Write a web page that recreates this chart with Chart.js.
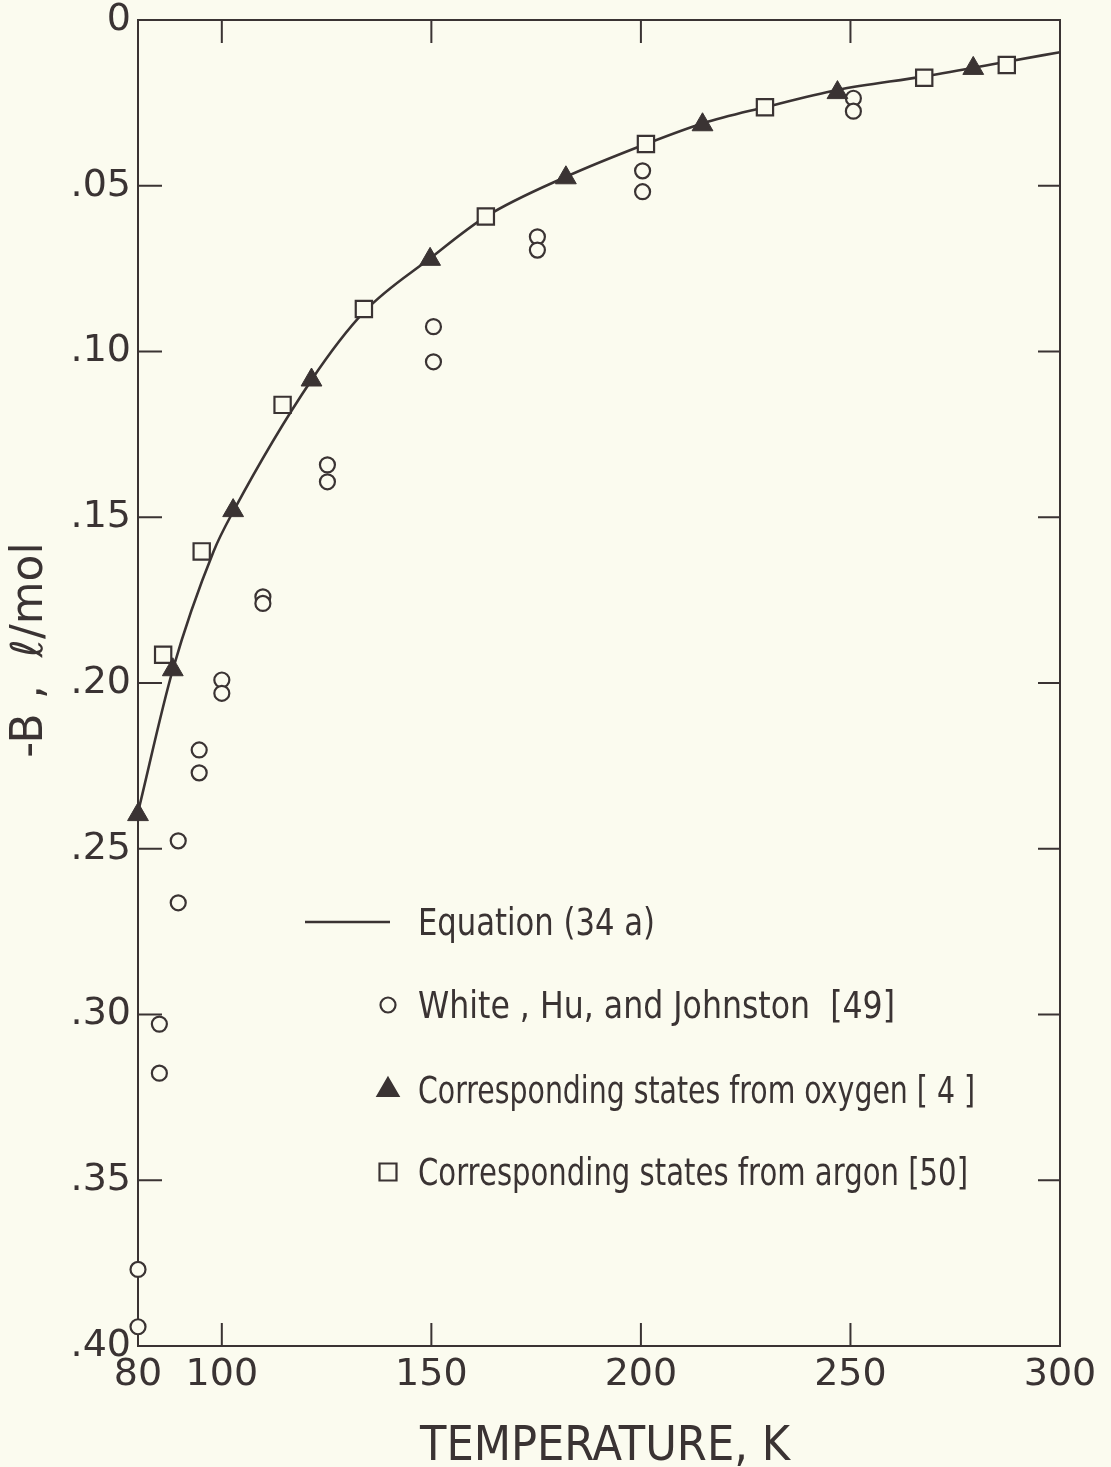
<!DOCTYPE html>
<html>
<head>
<meta charset="utf-8">
<script src="https://cdn.jsdelivr.net/npm/chart.js@4.4.1/dist/chart.umd.min.js"></script>
<style>
  html, body { margin: 0; padding: 0; background: #fbfbef; }
  canvas { display: block; }
</style>
</head>
<body>
<canvas id="chart" width="1111" height="1467"></canvas>
<script>
// tick labels
var xTicks = [80, 100, 150, 200, 250, 300];
var yTicks = [0, 0.05, 0.10, 0.15, 0.20, 0.25, 0.30, 0.35, 0.40];

// Equation (34a)
var curveT = [80, 88.3, 98, 102.7, 121.4, 134, 149.7, 163, 182.1, 201.2, 214.7, 229.6, 246.9, 267.6, 287.3, 300];
var curveB = [0.239, 0.196, 0.1604, 0.1483, 0.1086, 0.0880, 0.0719, 0.0593, 0.0473, 0.0374, 0.0312, 0.0263, 0.0211, 0.0170, 0.0126, 0.0097];

// White, Hu, and Johnston [49]
var whiteT = [80, 80, 85.1, 85.1, 89.6, 89.6, 94.6, 94.6, 100, 100, 109.8, 109.8, 125.2, 125.2, 150.5, 150.5, 175.3, 175.3, 200.4, 200.4, 250.7, 250.7];
var whiteB = [0.3769, 0.3942, 0.3029, 0.3177, 0.2476, 0.2663, 0.2202, 0.2271, 0.1991, 0.2031, 0.1740, 0.1760, 0.1342, 0.1393, 0.0925, 0.1031, 0.0654, 0.0694, 0.0455, 0.0518, 0.0236, 0.0275];

// Corresponding states from oxygen [4]
var oxyT = [80, 88.3, 102.7, 121.4, 149.7, 182.1, 214.7, 246.9, 279.3];
var oxyB = [0.2397, 0.1960, 0.1480, 0.1086, 0.0722, 0.0476, 0.0316, 0.0219, 0.0146];

// Corresponding states from argon [50]
var argT = [86.0, 95.2, 114.5, 133.9, 163.0, 201.2, 229.6, 267.6, 287.3];
var argB = [0.1915, 0.1603, 0.1161, 0.0872, 0.0593, 0.0374, 0.0263, 0.0174, 0.0136];

var legendItems = [
    { text: 'Equation (34 a)', kind: 'line' },
    { text: 'White , Hu, and Johnston  [49]', kind: 'circle' },
    { text: 'Corresponding states from oxygen [ 4 ]', kind: 'triangle' },
    { text: 'Corresponding states from argon [50]', kind: 'rect' }
];

var ink = '#3a3333';
var paper = '#fbfbef';
var fontName = '"DejaVu Sans", sans-serif';

function toPoints(xs, ys) {
    return xs.map(function (x, i) { return { x: x, y: ys[i] }; });
}

// draws text squeezed to a given width (the original lettering is narrow)
function narrowText(ctx, text, x, y, size, width, align) {
    ctx.font = size + 'px ' + fontName;
    var w = ctx.measureText(text).width;
    var k = Math.min(1, width / w);
    ctx.save();
    ctx.translate(x, y);
    ctx.scale(k, 1);
    ctx.textAlign = align || 'left';
    ctx.fillText(text, 0, 0);
    ctx.restore();
}

var decor = {
    id: 'decor',
    beforeDraw: function (chart) {
        var ctx = chart.ctx;
        ctx.save();
        ctx.fillStyle = paper;
        ctx.fillRect(0, 0, chart.width, chart.height);
        ctx.restore();
    },
    beforeDatasetsDraw: function (chart) {
        var ctx = chart.ctx;
        var a = chart.chartArea;
        var xs = chart.scales.x, ys = chart.scales.y;
        ctx.save();
        ctx.strokeStyle = ink;
        ctx.lineWidth = 2;
        ctx.strokeRect(a.left, a.top, a.right - a.left, a.bottom - a.top);
        ctx.beginPath();
        xTicks.slice(1, -1).forEach(function (v) {
            var px = xs.getPixelForValue(v);
            ctx.moveTo(px, a.bottom); ctx.lineTo(px, a.bottom - 23);
            ctx.moveTo(px, a.top); ctx.lineTo(px, a.top + 23);
        });
        yTicks.slice(1, -1).forEach(function (v) {
            var py = ys.getPixelForValue(v);
            ctx.moveTo(a.left, py); ctx.lineTo(a.left + 24, py);
            ctx.moveTo(a.right, py); ctx.lineTo(a.right - 22, py);
        });
        ctx.stroke();
        ctx.restore();
    },
    afterDraw: function (chart) {
        var ctx = chart.ctx;
        ctx.save();
        ctx.fillStyle = ink;
        ctx.strokeStyle = ink;

        // axis titles
        ctx.textBaseline = 'alphabetic';
        narrowText(ctx, 'TEMPERATURE, K', 605, 1460, 48, 370, 'center');
        ctx.save();
        ctx.translate(42, 650);
        ctx.rotate(-Math.PI / 2);
        narrowText(ctx, '-B ,  \u2113/mol', 0, 0, 44, 240, 'center');
        ctx.restore();

        // legend inside the plot
        var rows = [922, 1005, 1090, 1172];
        var widths = [237, 477, 557, 550];
        legendItems.forEach(function (item, i) {
            var y = rows[i];
            if (item.kind === 'line') {
                ctx.lineWidth = 2.5;
                ctx.beginPath();
                ctx.moveTo(305, y); ctx.lineTo(390, y);
                ctx.stroke();
            } else {
                ctx.lineWidth = 2.2;
                ctx.fillStyle = item.kind === 'triangle' ? ink : paper;
                var r = item.kind === 'circle' ? 7.5 : 12;
                Chart.helpers.drawPoint(ctx, { pointStyle: item.kind, radius: r, borderWidth: 2.2, rotation: 0 }, 388, y);
                ctx.fillStyle = ink;
            }
            narrowText(ctx, item.text, 418, y + 13, 37, widths[i], 'left');
        });
        ctx.restore();
    }
};

var ctx = document.getElementById('chart').getContext('2d');

new Chart(ctx, {
    type: 'scatter',
    data: {
        datasets: [
            {
                label: 'Corresponding states from oxygen [4]',
                data: toPoints(oxyT, oxyB),
                pointStyle: 'triangle',
                pointRadius: 12,
                backgroundColor: ink,
                borderColor: ink,
                borderWidth: 1,
                clip: false
            },
            {
                label: 'Corresponding states from argon [50]',
                data: toPoints(argT, argB),
                pointStyle: 'rect',
                pointRadius: 11.5,
                backgroundColor: paper,
                borderColor: ink,
                borderWidth: 2.2,
                clip: false
            },
            {
                label: 'White, Hu, and Johnston [49]',
                data: toPoints(whiteT, whiteB),
                pointStyle: 'circle',
                pointRadius: 7.5,
                backgroundColor: paper,
                borderColor: ink,
                borderWidth: 2.2,
                clip: false
            },
            {
                label: 'Equation (34 a)',
                data: toPoints(curveT, curveB),
                showLine: true,
                pointRadius: 0,
                borderColor: ink,
                borderWidth: 2.6,
                cubicInterpolationMode: 'monotone',
                fill: false
            }
        ]
    },
    options: {
        responsive: false,
        animation: false,
        devicePixelRatio: 1,
        layout: { padding: { top: 20, right: 51, left: 0, bottom: 0 } },
        plugins: {
            legend: { display: false },
            tooltip: { enabled: false }
        },
        scales: {
            x: {
                type: 'linear',
                min: 80,
                max: 300,
                afterBuildTicks: function (s) {
                    s.ticks = xTicks.map(function (v) { return { value: v }; });
                },
                afterFit: function (s) {
                    s.height = 121;
                    s.paddingLeft = 0;
                    s.paddingRight = 0;
                },
                grid: { display: false, drawTicks: false },
                border: { display: false },
                ticks: {
                    color: ink,
                    padding: 10,
                    maxRotation: 0,
                    autoSkip: false,
                    font: { family: fontName, size: 38, lineHeight: 1 }
                }
            },
            y: {
                type: 'linear',
                reverse: true,
                min: 0,
                max: 0.40,
                afterBuildTicks: function (s) {
                    s.ticks = yTicks.map(function (v) { return { value: v }; });
                },
                afterFit: function (s) {
                    s.width = 138;
                    s.paddingTop = 0;
                    s.paddingBottom = 0;
                },
                grid: { display: false, drawTicks: false },
                border: { display: false },
                ticks: {
                    color: ink,
                    padding: 7,
                    autoSkip: false,
                    font: { family: fontName, size: 38, lineHeight: 1 },
                    callback: function (v) {
                        if (v === 0) return '0';
                        return '.' + Math.round(v * 100).toString().padStart(2, '0');
                    }
                }
            }
        }
    },
    plugins: [decor]
});
</script>
</body>
</html>
